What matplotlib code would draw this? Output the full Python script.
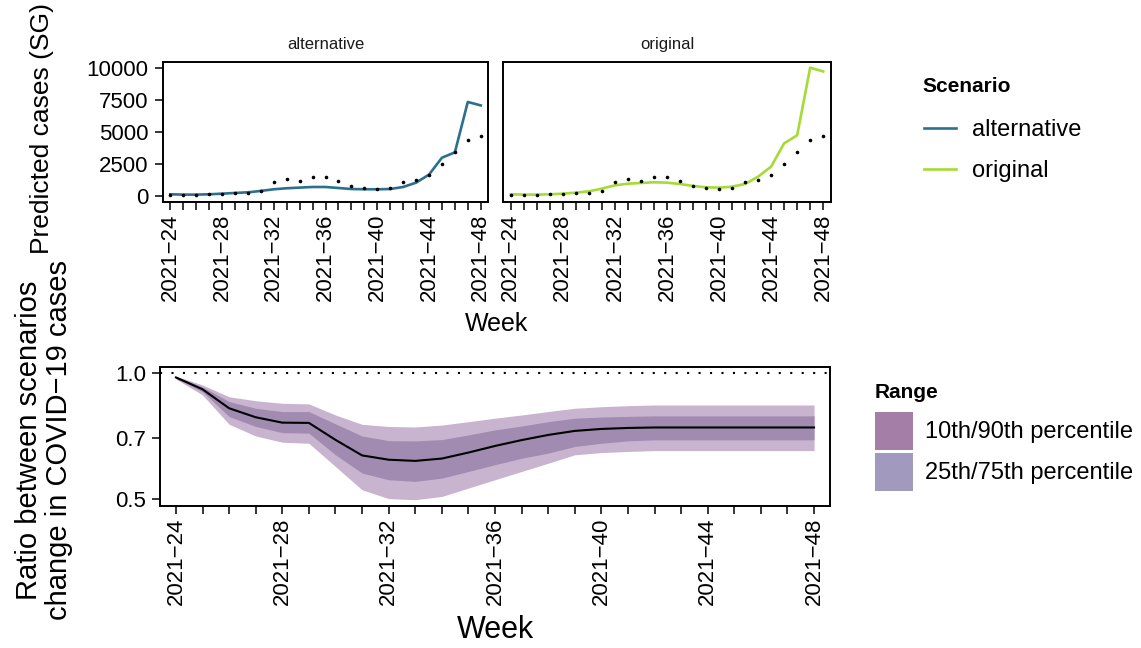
import matplotlib
matplotlib.use("Agg")
import matplotlib.pyplot as plt
from matplotlib.lines import Line2D
from matplotlib.patches import Patch
from matplotlib.ticker import FixedLocator, NullLocator

plt.rcParams['font.family'] = ['Liberation Sans', 'DejaVu Sans']

# data
weeks = list(range(24, 49))
week_labels = ["2021\u2212%d" % w if (w - 24) % 4 == 0 else "" for w in weeks]

observed = [80, 20, 30, 105, 155, 210, 185, 370, 1100, 1310, 1180, 1470, 1490, 1180,
            790, 630, 520, 630, 1100, 1260, 1650, 2490, 3400, 4400, 4660]
alternative = [105, 80, 80, 105, 155, 210, 260, 370, 500, 580, 630, 680, 680, 600,
               520, 500, 500, 520, 680, 1020, 1650, 2980, 3400, 7360, 7090]
original = [105, 80, 80, 105, 155, 235, 340, 550, 810, 940, 995, 1050, 1020, 915,
            760, 655, 630, 705, 915, 1490, 2280, 4110, 4740, 10050, 9760]

ratio_med = [0.978, 0.916, 0.825, 0.785, 0.762, 0.761, 0.693, 0.636, 0.621, 0.617, 0.625,
             0.646, 0.670, 0.692, 0.712, 0.728, 0.736, 0.740] + [0.742] * 7
ratio_q25 = [0.973, 0.904, 0.788, 0.746, 0.721, 0.719, 0.638, 0.577, 0.556, 0.551, 0.561,
             0.582, 0.604, 0.626, 0.644, 0.668, 0.680, 0.689] + [0.693] * 7
ratio_q75 = [0.983, 0.928, 0.856, 0.825, 0.810, 0.810, 0.757, 0.708, 0.690, 0.689, 0.694,
             0.712, 0.732, 0.748, 0.766, 0.781, 0.786, 0.789] + [0.791] * 7
ratio_q10 = [0.969, 0.888, 0.755, 0.708, 0.684, 0.680, 0.598, 0.526, 0.501, 0.498, 0.507,
             0.531, 0.556, 0.582, 0.609, 0.638, 0.646, 0.650] + [0.653] * 7
ratio_q90 = [0.985, 0.938, 0.879, 0.860, 0.848, 0.845, 0.795, 0.755, 0.746, 0.744, 0.752,
             0.766, 0.781, 0.795, 0.810, 0.825, 0.832, 0.837] + [0.840] * 7

col_alt = "#2D6F8E"
col_orig = "#A5DB36"
band_outer = "#C9B4D0"
band_inner = "#A28BB1"
leg_1090 = "#A47EA6"
leg_2575 = "#A199BE"

W, H = 1141, 648
fig = plt.figure(figsize=(W / 100, H / 100), dpi=100)


def box(l, r, t, b):
    return [l / W, 1 - b / H, (r - l) / W, (b - t) / H]


def style_axis(ax):
    for s in ax.spines.values():
        s.set_linewidth(1.4)
    ax.tick_params(axis='both', length=5.5, width=1.1, color='black',
                   labelsize=16, pad=3, labelcolor='black')
    ax.tick_params(axis='y', pad=4.5)
    ax.set_xlim(23.4, 48.6)
    ax.xaxis.set_major_locator(FixedLocator(weeks))
    ax.set_xticklabels(week_labels, rotation=90)


ax1 = fig.add_axes(box(162.5, 488.5, 62, 202))
ax2 = fig.add_axes(box(503, 831, 62, 202))
for ax, series, col, name in [(ax1, alternative, col_alt, "alternative"),
                              (ax2, original, col_orig, "original")]:
    ax.plot(weeks, series, color=col, lw=1.9, solid_joinstyle='round')
    ax.plot(weeks, observed, 'o', color='black', ms=2.6, mec='none')
    ax.set_ylim(-500, 10500)
    style_axis(ax)
    ax.text(0.5, 1 + 18 / 140, name, transform=ax.transAxes, ha='center',
            va='center', fontsize=12, color='#1A1A1A')
ax1.yaxis.set_major_locator(FixedLocator([0, 2500, 5000, 7500, 10000]))
ax2.yaxis.set_major_locator(NullLocator())

ax3 = fig.add_axes(box(160, 830, 367, 506))
ax3.set_yscale('log')
ax3.fill_between(weeks, ratio_q10, ratio_q90, color=band_outer, lw=0)
ax3.fill_between(weeks, ratio_q25, ratio_q75, color=band_inner, lw=0)
ax3.plot(weeks, ratio_med, color='black', lw=1.5)
ax3.axhline(1.0, color='black', lw=1.5, ls=(0, (1, 4.5)))
ax3.set_ylim(0.481, 1.036)
style_axis(ax3)
ax3.yaxis.set_major_locator(FixedLocator([0.5, 0.7, 1.0]))
ax3.yaxis.set_minor_locator(NullLocator())
ax3.set_yticklabels(["0.5", "0.7", "1.0"])

# axis titles
fig.text(42 / W, 1 - 128 / H, "Predicted cases (SG)", rotation=90, ha='center',
         va='center', fontsize=19)
fig.text(497 / W, 1 - 324 / H, "Week", ha='center', va='center', fontsize=18)
fig.text(495 / W, 1 - 630 / H, "Week", ha='center', va='center', fontsize=22)
fig.text(44 / W, 1 - 440 / H, "Ratio between scenarios\nchange in COVID\u221219 cases",
         rotation=90, ha='center', va='center', fontsize=21, multialignment='center',
         linespacing=1.08)

# legends (titles placed separately so the gap to the keys can be matched)
fig.text(922 / W, 1 - 87 / H, "Scenario", ha='left', va='center',
         fontsize=15, fontweight='bold')
h1 = [Line2D([], [], color=col_alt, lw=1.9), Line2D([], [], color=col_orig, lw=1.9)]
leg1 = fig.legend(h1, ["alternative", "original"],
                  loc='upper left', bbox_to_anchor=(924 / W, 1 - 119 / H),
                  frameon=False, fontsize=17, handlelength=1.36, handletextpad=0.68,
                  labelspacing=0.8, borderaxespad=0, borderpad=0)

fig.text(875 / W, 1 - 392 / H, "Range", ha='left', va='center',
         fontsize=15, fontweight='bold')
h2 = [Patch(facecolor=leg_1090, edgecolor='none'), Patch(facecolor=leg_2575, edgecolor='none')]
leg2 = fig.legend(h2, ["10th/90th percentile", "25th/75th percentile"],
                  loc='upper left', bbox_to_anchor=(875 / W, 1 - 412 / H),
                  frameon=False, fontsize=17, handlelength=1.6, handleheight=2.1,
                  handletextpad=0.5, labelspacing=0.12,
                  borderaxespad=0, borderpad=0)

fig.savefig("out.png", dpi=100)
